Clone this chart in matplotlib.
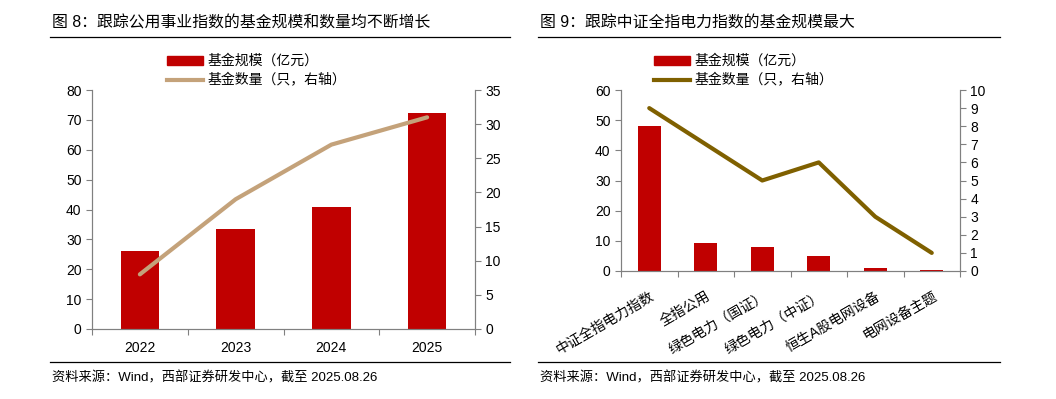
import numpy as np
import matplotlib
matplotlib.use("Agg")
import matplotlib.pyplot as plt
from matplotlib.patches import Patch
from matplotlib.lines import Line2D

plt.rcParams['font.family'] = ['Liberation Sans', 'Noto Sans CJK SC']
plt.rcParams['axes.unicode_minus'] = False

# data - chart 8
years = ['2022', '2023', '2024', '2025']
scale_8 = [26.0, 33.4, 41.0, 72.4]      # 基金规模 (亿元)
count_8 = [8, 19, 27, 31]              # 基金数量 (只)

# data - chart 9
index_names = ['中证全指电力指数', '全指公用', '绿色电力（国证）', '绿色电力（中证）',
               '恒生A股电网设备', '电网设备主题']
scale_9 = [48.0, 9.4, 8.1, 5.1, 1.1, 0.4]
count_9 = [9, 7, 5, 6, 3, 1]

RED = '#C00000'
TAN = '#C4A27A'
OLIVE = '#7F6000'
SPINE = '#808080'

W, H = 1056, 399
fig = plt.figure(figsize=(W / 100, H / 100), dpi=100)


def px(x0, y0, x1, y1):
    # pixel box -> figure fraction
    return [x0 / W, 1 - y1 / H, (x1 - x0) / W, (y1 - y0) / H]


def style(ax, ax2, n, pad):
    for a in (ax, ax2):
        a.spines['top'].set_visible(False)
        for s in ('left', 'right', 'bottom'):
            a.spines[s].set_color(SPINE)
            a.spines[s].set_linewidth(0.8)
        a.tick_params(axis='y', colors=SPINE, labelcolor='black', labelsize=10, length=4, width=0.8)
    ax.set_xlim(-0.5, n - 0.5)
    ax.set_xticks(np.arange(n))
    ax.set_xticks(np.arange(n + 1) - 0.5, minor=True)
    ax.tick_params(axis='x', which='major', length=0, labelsize=10, pad=pad)
    ax.tick_params(axis='x', which='minor', length=4, color=SPINE, width=0.8)


def frame(x0, x1, title):
    fig.add_artist(Line2D([x0 / W, x1 / W], [1 - 37 / H] * 2, color='black', lw=0.9))
    fig.add_artist(Line2D([x0 / W, x1 / W], [1 - 362 / H] * 2, color='black', lw=0.9))
    fig.text((x0 + 2) / W, 1 - 23 / H, title, fontsize=11.4, va='center', ha='left')
    fig.text((x0 + 2) / W, 1 - 378 / H, '资料来源：Wind，西部证券研发中心，截至 2025.08.26',
             fontsize=9.5, va='center', ha='left')


def legend(x0, line_color):
    fig.legend([Patch(color=RED), Line2D([], [], color=line_color, lw=3)],
               ['基金规模（亿元）', '基金数量（只，右轴）'],
               loc='upper left', bbox_to_anchor=(x0 / W, 1 - 54 / H), frameon=False,
               fontsize=10, handlelength=2.6, handleheight=0.6, labelspacing=0.4,
               handletextpad=0.3, borderpad=0, borderaxespad=0)


# ---- chart 8
ax1 = fig.add_axes(px(92, 90, 475, 329))
ax1b = ax1.twinx()
x = np.arange(len(years))
ax1.bar(x, scale_8, width=0.4, color=RED, zorder=2)
ax1b.plot(x, count_8, color=TAN, lw=3, solid_capstyle='round', zorder=3)
ax1.set_ylim(0, 80)
ax1.set_yticks(range(0, 81, 10))
ax1b.set_ylim(0, 35)
ax1b.set_yticks(range(0, 36, 5))
style(ax1, ax1b, len(years), 9)
ax1.set_xticklabels(years)
frame(50, 510, '图 8：跟踪公用事业指数的基金规模和数量均不断增长')
legend(167, TAN)

# ---- chart 9
ax2 = fig.add_axes(px(621, 90, 960, 271))
ax2b = ax2.twinx()
x = np.arange(len(index_names))
ax2.bar(x, scale_9, width=0.4, color=RED, zorder=2)
ax2b.plot(x, count_9, color=OLIVE, lw=3, solid_capstyle='round', zorder=3)
ax2.set_ylim(0, 60)
ax2.set_yticks(range(0, 61, 10))
ax2b.set_ylim(0, 10)
ax2b.set_yticks(range(0, 11, 1))
style(ax2, ax2b, len(index_names), 13)
ax2.set_xticklabels(index_names, rotation=30, ha='right', rotation_mode='anchor')
frame(538, 1000, '图 9：跟踪中证全指电力指数的基金规模最大')
legend(654, OLIVE)

fig.savefig('out.png', dpi=100)
